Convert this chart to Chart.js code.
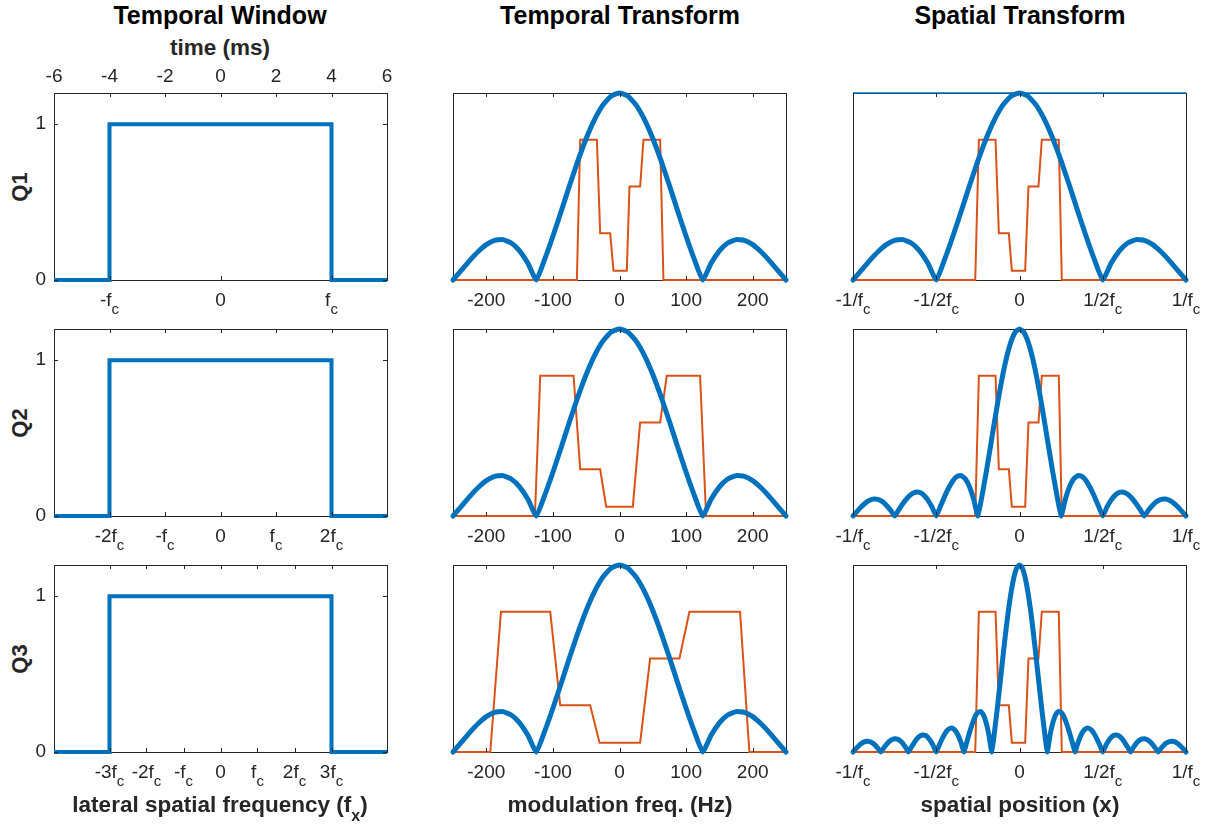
<!DOCTYPE html>
<html>
<head>
<meta charset="utf-8">
<title>Temporal window and transforms</title>
<script src="https://cdn.jsdelivr.net/npm/chart.js@4.4.1/dist/chart.umd.min.js"></script>
<style>
  html, body { margin: 0; padding: 0; background: #fff; }
  #fig { position: relative; width: 1209px; height: 826px; overflow: hidden;
         font-family: "Liberation Sans", Arial, Helvetica, sans-serif; color: #262626; }
  #fig canvas { position: absolute; }
  .title { position: absolute; width: 400px; margin-left: -200px; text-align: center;
           font-size: 25px; line-height: 30px; font-weight: bold; color: #000; white-space: nowrap; }
  .xlab { position: absolute; width: 440px; margin-left: -220px; text-align: center;
          font-size: 22.5px; line-height: 26px; font-weight: bold; white-space: nowrap; }
  .xlab sub { font-size: 16px; vertical-align: -9px; line-height: 0; }
  .rowlab { position: absolute; width: 60px; margin-left: -30px; margin-top: -13px; text-align: center;
            font-size: 22px; line-height: 26px; font-weight: bold; transform: rotate(-90deg); }
</style>
</head>
<body>
<div id="fig">
  <div class="title" style="left:220px; top:0px">Temporal Window</div>
  <div class="title" style="left:620px; top:0px">Temporal Transform</div>
  <div class="title" style="left:1020px; top:0px">Spatial Transform</div>
  <div class="xlab" style="left:220px; top:35px">time (ms)</div>

  <div class="rowlab" style="left:20px; top:187px">Q1</div>
  <div class="rowlab" style="left:20px; top:423px">Q2</div>
  <div class="rowlab" style="left:20px; top:659px">Q3</div>

  <canvas id="w1"></canvas><canvas id="m1"></canvas><canvas id="s1"></canvas>
  <canvas id="w2"></canvas><canvas id="m2"></canvas><canvas id="s2"></canvas>
  <canvas id="w3"></canvas><canvas id="m3"></canvas><canvas id="s3"></canvas>

  <div class="xlab" style="left:220px; top:792px">lateral spatial frequency (f<sub>x</sub>)</div>
  <div class="xlab" style="left:620px; top:792px">modulation freq. (Hz)</div>
  <div class="xlab" style="left:1020px; top:792px">spatial position (x)</div>
</div>
<script>
// ---------- data ----------
// temporal window, top axis in ms
const winX = [-6, -4, -4, 4, 4, 6];
const winY = [0, 0, 1, 1, 0, 0];
const timeTicks = [-6, -4, -2, 0, 2, 4, 6];
const winYTicks = [0, 1];

// bottom tick labels of the window plots (f_c multiples)
const fxTicks1 = [-4, 0, 4];
const fxMain1 = ['-f', '0', 'f'];
const fxSub1 = ['c', '', 'c'];
const fxTicks2 = [-4, -2, 0, 2, 4];
const fxMain2 = ['-2f', '-f', '0', 'f', '2f'];
const fxSub2 = ['c', 'c', '', 'c', 'c'];
const fxTicks3 = [-4, -2.667, -1.333, 0, 1.333, 2.667, 4];
const fxMain3 = ['-3f', '-2f', '-f', '0', 'f', '2f', '3f'];
const fxSub3 = ['c', 'c', 'c', '', 'c', 'c', 'c'];

// temporal transform, modulation frequency (Hz)
const modTicks = [-200, -100, 0, 100, 200];
const modX = [-250, -237.5, -225, -212.5, -200, -187.5, -175, -162.5, -150, -137.5,
  -125, -112.5, -100, -87.5, -75, -62.5, -50, -37.5, -25, -12.5, 0,
  12.5, 25, 37.5, 50, 62.5, 75, 87.5, 100, 112.5, 125,
  137.5, 150, 162.5, 175, 187.5, 200, 212.5, 225, 237.5, 250];

// blue magnitude curves
const magQ1 = [0, 0.052, 0.104, 0.151, 0.189, 0.212, 0.216, 0.198, 0.156, 0.089,
  0, 0.109, 0.234, 0.368, 0.505, 0.637, 0.757, 0.858, 0.935, 0.984, 1,
  0.984, 0.935, 0.858, 0.757, 0.637, 0.505, 0.368, 0.234, 0.109, 0,
  0.089, 0.156, 0.198, 0.216, 0.212, 0.189, 0.151, 0.104, 0.052, 0];
const magQ2 = [0, 0.025, 0.049, 0.070, 0.084, 0.091, 0.089, 0.078, 0.058, 0.032,
  0, 0.034, 0.067, 0.095, 0.116, 0.127, 0.126, 0.112, 0.085, 0.047,
  0, 0.052, 0.104, 0.151, 0.189, 0.212, 0.216, 0.198, 0.156, 0.089,
  0, 0.109, 0.234, 0.368, 0.505, 0.637, 0.757, 0.858, 0.935, 0.984, 1,
  0.984, 0.935, 0.858, 0.757, 0.637, 0.505, 0.368, 0.234, 0.109, 0,
  0.089, 0.156, 0.198, 0.216, 0.212, 0.189, 0.151, 0.104, 0.052, 0,
  0.047, 0.085, 0.112, 0.126, 0.127, 0.116, 0.095, 0.067, 0.034, 0,
  0.032, 0.058, 0.078, 0.089, 0.091, 0.084, 0.070, 0.049, 0.025, 0];
const magQ3 = [0, 0.017, 0.032, 0.045, 0.054, 0.058, 0.056, 0.049, 0.036, 0.019,
  0, 0.020, 0.039, 0.055, 0.066, 0.071, 0.069, 0.060, 0.045, 0.024,
  0, 0.025, 0.049, 0.070, 0.084, 0.091, 0.089, 0.078, 0.058, 0.032,
  0, 0.034, 0.067, 0.095, 0.116, 0.127, 0.126, 0.112, 0.085, 0.047,
  0, 0.052, 0.104, 0.151, 0.189, 0.212, 0.216, 0.198, 0.156, 0.089,
  0, 0.109, 0.234, 0.368, 0.505, 0.637, 0.757, 0.858, 0.935, 0.984, 1,
  0.984, 0.935, 0.858, 0.757, 0.637, 0.505, 0.368, 0.234, 0.109, 0,
  0.089, 0.156, 0.198, 0.216, 0.212, 0.189, 0.151, 0.104, 0.052, 0,
  0.047, 0.085, 0.112, 0.126, 0.127, 0.116, 0.095, 0.067, 0.034, 0,
  0.032, 0.058, 0.078, 0.089, 0.091, 0.084, 0.070, 0.049, 0.025, 0,
  0.024, 0.045, 0.060, 0.069, 0.071, 0.066, 0.055, 0.039, 0.020, 0,
  0.019, 0.036, 0.049, 0.056, 0.058, 0.054, 0.045, 0.032, 0.017, 0];

// orange stepped spectra
const stepLevels = [0, 0, 0.75, 0.75, 0.25, 0.25, 0.05, 0.05, 0.5, 0.5, 0.75, 0.75, 0, 0];
const modStepX1 = [-250, -64, -59, -34, -29, -14, -9, 11, 15, 31, 36, 61, 66, 250];
const modStepX2 = [-250, -127, -119, -69, -59, -29, -20, 20, 31, 61, 71, 121, 130, 250];
const modStepX3 = [-250, -194, -178, -104, -89, -44, -30, 31, 46, 90, 105, 181, 195, 250];
const posStepX = [-1, -0.266, -0.244, -0.144, -0.124, -0.064, -0.046, 0.034, 0.054, 0.114, 0.134, 0.236, 0.254, 1];

// spatial transform, position in units of 1/f_c
const posTicks = [-1, -0.5, 0, 0.5, 1];
const posMain = ['-1/f', '-1/2f', '0', '1/2f', '1/f'];
const posSub = ['c', 'c', '', 'c', 'c'];
const posX1 = [-1, -0.95, -0.9, -0.85, -0.8, -0.75, -0.7, -0.65, -0.6, -0.55, -0.5, -0.45, -0.4, -0.35,
  -0.3, -0.25, -0.2, -0.15, -0.1, -0.05, 0, 0.05, 0.1, 0.15, 0.2, 0.25, 0.3, 0.35, 0.4, 0.45, 0.5,
  0.55, 0.6, 0.65, 0.7, 0.75, 0.8, 0.85, 0.9, 0.95, 1];
const posX2 = [-1, -0.975, -0.95, -0.925, -0.9, -0.875, -0.85, -0.825, -0.8, -0.775, -0.75, -0.725,
  -0.7, -0.675, -0.65, -0.625, -0.6, -0.575, -0.55, -0.525, -0.5, -0.475, -0.45, -0.425, -0.4, -0.375,
  -0.35, -0.325, -0.3, -0.275, -0.25, -0.225, -0.2, -0.175, -0.15, -0.125, -0.1, -0.075, -0.05, -0.025, 0,
  0.025, 0.05, 0.075, 0.1, 0.125, 0.15, 0.175, 0.2, 0.225, 0.25, 0.275, 0.3, 0.325, 0.35, 0.375, 0.4,
  0.425, 0.45, 0.475, 0.5, 0.525, 0.55, 0.575, 0.6, 0.625, 0.65, 0.675, 0.7, 0.725, 0.75, 0.775, 0.8,
  0.825, 0.85, 0.875, 0.9, 0.925, 0.95, 0.975, 1];
const posX3 = [-1, -0.9833, -0.9667, -0.95, -0.9333, -0.9167, -0.9, -0.8833, -0.8667, -0.85, -0.8333, -0.8167,
  -0.8, -0.7833, -0.7667, -0.75, -0.7333, -0.7167, -0.7, -0.6833, -0.6667, -0.65, -0.6333, -0.6167,
  -0.6, -0.5833, -0.5667, -0.55, -0.5333, -0.5167, -0.5, -0.4833, -0.4667, -0.45, -0.4333, -0.4167,
  -0.4, -0.3833, -0.3667, -0.35, -0.3333, -0.3167, -0.3, -0.2833, -0.2667, -0.25, -0.2333, -0.2167,
  -0.2, -0.1833, -0.1667, -0.15, -0.1333, -0.1167, -0.1, -0.0833, -0.0667, -0.05, -0.0333, -0.0167, 0,
  0.0167, 0.0333, 0.05, 0.0667, 0.0833, 0.1, 0.1167, 0.1333, 0.15, 0.1667, 0.1833,
  0.2, 0.2167, 0.2333, 0.25, 0.2667, 0.2833, 0.3, 0.3167, 0.3333, 0.35, 0.3667, 0.3833,
  0.4, 0.4167, 0.4333, 0.45, 0.4667, 0.4833, 0.5, 0.5167, 0.5333, 0.55, 0.5667, 0.5833,
  0.6, 0.6167, 0.6333, 0.65, 0.6667, 0.6833, 0.7, 0.7167, 0.7333, 0.75, 0.7667, 0.7833,
  0.8, 0.8167, 0.8333, 0.85, 0.8667, 0.8833, 0.9, 0.9167, 0.9333, 0.95, 0.9667, 0.9833, 1];

// ---------- drawing ----------
const FONT = '"Liberation Sans", Arial, Helvetica, sans-serif';
const AX = '#262626';
const BLUE = '#0072BD';
const ORANGE = '#D95319';
Chart.defaults.font.family = FONT;
Chart.defaults.color = AX;

const PW = 333, PH = 187;
const PAD = { l: 50, r: 28, t: 32, b: 34 };
const colLeft = [54, 453, 853];
const rowTop = [93, 329, 565];

const pts = (xs, ys) => xs.map((x, i) => ({ x: x, y: ys[i] }));

// inward tick marks (MATLAB style) and labels with subscripts
const axisDecor = {
  id: 'axisDecor',
  afterDraw(chart, args, o) {
    const ctx = chart.ctx, a = chart.chartArea, L = 4;
    const xs = chart.scales.x, xt = chart.scales.x2, ys = chart.scales.y;
    ctx.save();
    ctx.strokeStyle = AX;
    ctx.lineWidth = 1;
    ctx.beginPath();
    xs.ticks.forEach(t => {
      const p = Math.round(xs.getPixelForValue(t.value)) + 0.5;
      ctx.moveTo(p, a.bottom); ctx.lineTo(p, a.bottom - L);
      if (!o.ownTop) { ctx.moveTo(p, a.top); ctx.lineTo(p, a.top + L); }
    });
    if (o.ownTop) {
      xt.ticks.forEach(t => {
        const p = Math.round(xt.getPixelForValue(t.value)) + 0.5;
        ctx.moveTo(p, a.top); ctx.lineTo(p, a.top + L);
      });
    }
    if (o.yTicks) {
      ys.ticks.forEach(t => {
        const p = Math.round(ys.getPixelForValue(t.value)) + 0.5;
        ctx.moveTo(a.left, p); ctx.lineTo(a.left + L, p);
        ctx.moveTo(a.right, p); ctx.lineTo(a.right - L, p);
      });
    }
    ctx.stroke();
    if (o.main) {
      ctx.fillStyle = AX;
      ctx.textAlign = 'left';
      ctx.textBaseline = 'alphabetic';
      xs.ticks.forEach((t, i) => {
        const px = xs.getPixelForValue(t.value);
        ctx.font = '19px ' + FONT;
        const w1 = ctx.measureText(o.main[i]).width;
        ctx.font = '15px ' + FONT;
        const w2 = o.sub[i] ? ctx.measureText(o.sub[i]).width : 0;
        const x0 = px - (w1 + w2) / 2;
        ctx.font = '19px ' + FONT;
        ctx.fillText(o.main[i], x0, a.bottom + 26);
        if (o.sub[i]) {
          ctx.font = '15px ' + FONT;
          ctx.fillText(o.sub[i], x0 + w1, a.bottom + 34);
        }
      });
    }
    ctx.restore();
  }
};

function axis(pos, min, max, size, extra) {
  return Object.assign({
    type: 'linear', position: pos, min: min, max: max,
    grid: { display: false, drawTicks: false },
    border: { display: true, color: AX, width: 1 },
    ticks: { display: false },
    afterFit: s => { if (s.isHorizontal()) s.height = size; else s.width = size; }
  }, extra || {});
}

function panel(id, col, row, datasets, o) {
  const cv = document.getElementById(id);
  cv.width = PW + PAD.l + PAD.r;
  cv.height = PH + PAD.t + PAD.b;
  cv.style.left = (colLeft[col] - PAD.l) + 'px';
  cv.style.top = (rowTop[row] - PAD.t) + 'px';
  const numTicks = { display: true, autoSkip: false, maxRotation: 0, color: AX, font: { size: 19 } };
  return new Chart(cv, {
    type: 'line',
    data: { datasets: datasets },
    options: {
      responsive: false, animation: false, events: [],
      layout: { padding: 0 },
      elements: { point: { radius: 0 } },
      plugins: { legend: { display: false }, tooltip: { enabled: false }, axisDecor: o.decor },
      scales: {
        x: axis('bottom', o.xmin, o.xmax, PAD.b, {
          afterBuildTicks: s => { s.ticks = o.xticks.map(v => ({ value: v })); },
          ticks: o.xnum ? Object.assign({ padding: 9 }, numTicks) : { display: false }
        }),
        x2: axis('top', o.xmin, o.xmax, PAD.t, o.topTicks ? {
          afterBuildTicks: s => { s.ticks = o.topTicks.map(v => ({ value: v })); },
          ticks: Object.assign({ padding: 5 }, numTicks)
        } : {}),
        y: axis('left', 0, o.ymax, PAD.l, o.yticks ? {
          afterBuildTicks: s => { s.ticks = o.yticks.map(v => ({ value: v })); },
          ticks: Object.assign({ padding: 8 }, numTicks)
        } : {}),
        y2: axis('right', 0, o.ymax, PAD.r)
      }
    },
    plugins: [axisDecor]
  });
}

function blue(xs, ys, w) {
  return { data: pts(xs, ys), borderColor: BLUE, borderWidth: w, tension: 0.15,
           borderJoinStyle: 'round', borderCapStyle: 'round', clip: false, fill: false };
}
function orange(xs) {
  return { data: pts(xs, stepLevels), borderColor: ORANGE, borderWidth: 2, tension: 0,
           borderJoinStyle: 'miter', clip: false, fill: false };
}

// left column: temporal window
const fxTicks = [fxTicks1, fxTicks2, fxTicks3];
const fxMain = [fxMain1, fxMain2, fxMain3];
const fxSub = [fxSub1, fxSub2, fxSub3];
['w1', 'w2', 'w3'].forEach((id, r) => {
  const d = blue(winX, winY, 4);
  d.tension = 0;
  d.borderJoinStyle = 'miter';
  d.borderCapStyle = 'butt';
  panel(id, 0, r, [d], {
    xmin: -6, xmax: 6, ymax: 1.2, xticks: fxTicks[r], xnum: false, yticks: winYTicks,
    topTicks: r === 0 ? timeTicks : null,
    decor: { ownTop: r === 0, yTicks: true, main: fxMain[r], sub: fxSub[r] }
  });
});

// middle column: temporal transform
const modSteps = [modStepX1, modStepX2, modStepX3];
['m1', 'm2', 'm3'].forEach((id, r) => {
  panel(id, 1, r, [blue(modX, magQ1, 5), orange(modSteps[r])], {
    xmin: -250, xmax: 250, ymax: 1, xticks: modTicks, xnum: true,
    decor: { ownTop: false, yTicks: false }
  });
});

// right column: spatial transform
const posX = [posX1, posX2, posX3];
const posMag = [magQ1, magQ2, magQ3];
['s1', 's2', 's3'].forEach((id, r) => {
  const ds = [blue(posX[r], posMag[r], 5), orange(posStepX)];
  if (r === 0) {
    ds.push({ data: pts([-1, 1], [1, 1]), borderColor: BLUE, borderWidth: 1.5, clip: false, fill: false });
  }
  panel(id, 2, r, ds, {
    xmin: -1, xmax: 1, ymax: 1, xticks: posTicks, xnum: false,
    decor: { ownTop: false, yTicks: false, main: posMain, sub: posSub }
  });
});
</script>
</body>
</html>
